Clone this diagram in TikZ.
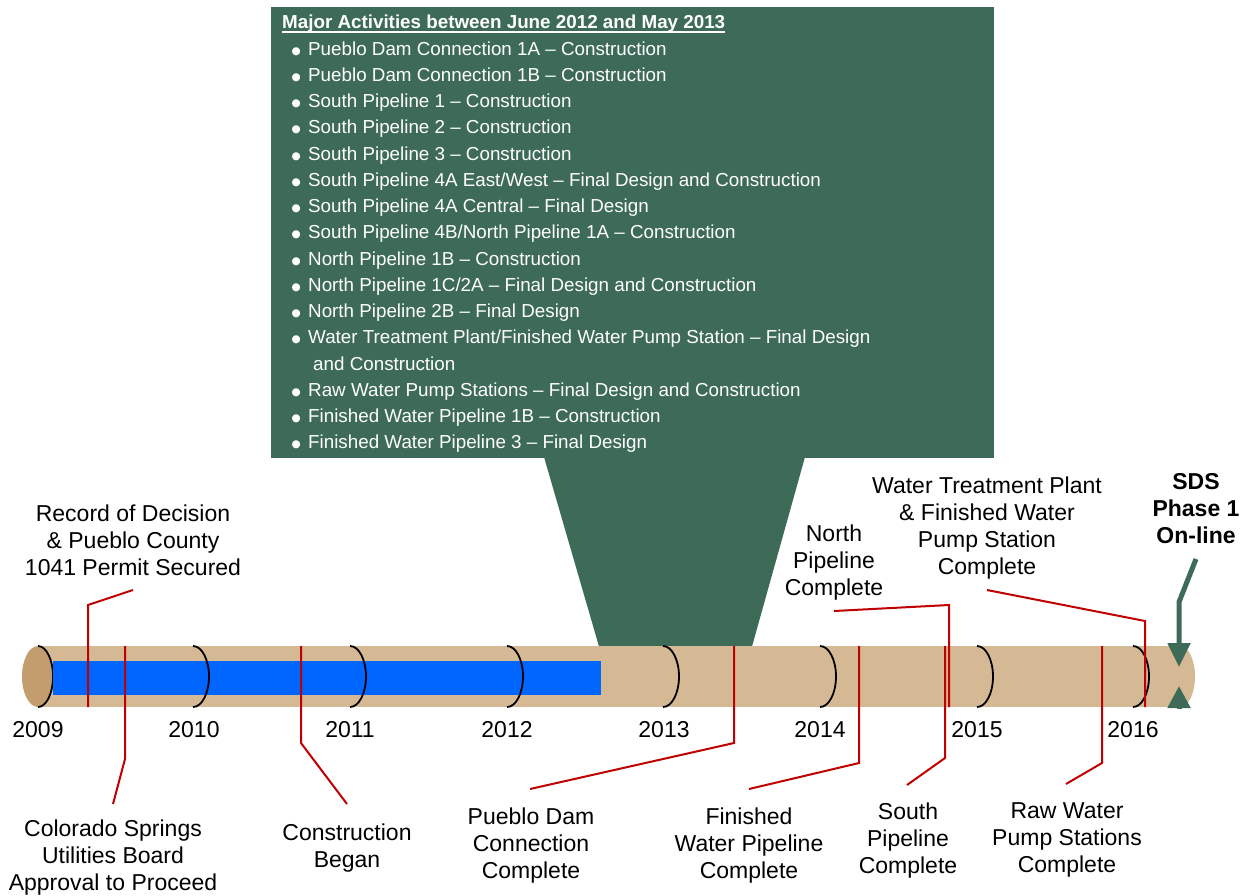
\documentclass[tikz,border=0pt]{standalone}
\usepackage{fontspec}
\setmainfont{Liberation Sans}
\newfontfamily\dvs{DejaVu Sans}
\usetikzlibrary{arrows.meta}
\definecolor{boxgreen}{RGB}{61,107,87}
\definecolor{pipetan}{RGB}{213,185,148}
\definecolor{pipedark}{RGB}{196,157,110}
\definecolor{barblue}{RGB}{0,102,255}
\definecolor{leadred}{RGB}{192,0,0}
\newcommand\bul{\llap{\raisebox{1.6pt}{\dvs\fontsize{10.5}{10}\selectfont ●}\hspace{7.5pt}}}
\begin{document}
\begin{tikzpicture}[x=1pt,y=-1pt,
  lbl/.style={align=center, anchor=north, inner sep=0pt, font=\fontsize{23}{27}\selectfont},
  boldlbl/.style={lbl, font=\fontsize{23}{27}\selectfont\bfseries},
  item/.style={anchor=base west, inner sep=0pt, text=white, font=\fontsize{18.8}{22}\selectfont},
  yr/.style={anchor=base, inner sep=0pt, font=\fontsize{23}{27}\selectfont},
  leader/.style={draw=leadred, line width=2pt},
  yeararc/.style={draw=black, line width=1.8pt},
  sdsarrow/.style={draw=boxgreen, line width=5pt, -{Triangle[width=22pt,length=24pt]}, color=boxgreen}]
\useasboundingbox (0,0) rectangle (1244,895);

% callout box
\fill[boxgreen] (271,7) rectangle (994,458);
\fill[boxgreen] (544,457) -- (805,457) -- (752,646.5) -- (599,646.5) -- cycle;

\node[item, font=\fontsize{18.8}{22}\selectfont\bfseries] (title) at (282,28.7) {Major Activities between June 2012 and May 2013};
\draw[white, line width=1.4pt] ([yshift=-3.2pt]title.base west) -- ([yshift=-3.2pt]title.base east);

\node[item] (i1)  at (308,55.7)  {\bul Pueblo Dam Connection 1A – Construction};
\node[item] (i2)  at (308,81.7)  {\bul Pueblo Dam Connection 1B – Construction};
\node[item] (i3)  at (308,107.7) {\bul South Pipeline 1 – Construction};
\node[item] (i4)  at (308,133.7) {\bul South Pipeline 2 – Construction};
\node[item] (i5)  at (308,160.7) {\bul South Pipeline 3 – Construction};
\node[item] (i6)  at (308,186.7) {\bul South Pipeline 4A East/West – Final Design and Construction};
\node[item] (i7)  at (308,212.7) {\bul South Pipeline 4A Central – Final Design};
\node[item] (i8)  at (308,238.7) {\bul South Pipeline 4B/North Pipeline 1A – Construction};
\node[item] (i9)  at (308,265.7) {\bul North Pipeline 1B – Construction};
\node[item] (i10) at (308,291.7) {\bul North Pipeline 1C/2A – Final Design and Construction};
\node[item] (i11) at (308,317.7) {\bul North Pipeline 2B – Final Design};
\node[item] (i12) at (308,343.7) {\bul Water Treatment Plant/Finished Water Pump Station – Final Design};
\node[item] (i12b) at (313,370.7) {and Construction};
\node[item] (i13) at (308,396.7) {\bul Raw Water Pump Stations – Final Design and Construction};
\node[item] (i14) at (308,422.7) {\bul Finished Water Pipeline 1B – Construction};
\node[item] (i15) at (308,448.7) {\bul Finished Water Pipeline 3 – Final Design};

% pipe
\fill[pipetan] (38,646) rectangle (1180,707);
\fill[pipetan] (1180,676.5) ellipse [x radius=15, y radius=30.5];
\fill[pipedark] (38,676.5) ellipse [x radius=16, y radius=30.5];
\draw[yeararc] (38,646) arc[start angle=-90, end angle=90, x radius=15, y radius=30.5];
\fill[barblue] (53,661) rectangle (601,695);
\foreach \xx in {193,350,507,663,820,977,1133}
  \draw[yeararc] (\xx,646) arc[start angle=-90, end angle=90, x radius=16, y radius=30.5];

% years
\node[yr] (y2009) at (38,737) {2009};
\node[yr] (y2010) at (194,737) {2010};
\node[yr] (y2011) at (350,737) {2011};
\node[yr] (y2012) at (507,737) {2012};
\node[yr] (y2013) at (664,737) {2013};
\node[yr] (y2014) at (820,737) {2014};
\node[yr] (y2015) at (977,737) {2015};
\node[yr] (y2016) at (1133,737) {2016};

% labels
\node[lbl] (rod) at (133,504.5) {Record of Decision\\\& Pueblo County\\1041 Permit Secured};
\node[lbl] (csu) at (113,820) {Colorado Springs\\Utilities Board\\Approval to Proceed};
\node[lbl] (cb)  at (347,823.5) {Construction\\Began};
\node[lbl] (pdc) at (531,807.5) {Pueblo Dam\\Connection\\Complete};
\node[lbl] (fwp) at (749,807.5) {Finished\\Water Pipeline\\Complete};
\node[lbl] (sp)  at (908,802.5) {South\\Pipeline\\Complete};
\node[lbl] (rw)  at (1067,802.5) {Raw Water\\Pump Stations\\Complete};
\node[lbl] (np)  at (834,524.5) {North\\Pipeline\\Complete};
\node[lbl] (wtp) at (987,476.5) {Water Treatment Plant\\\& Finished Water\\Pump Station\\Complete};
\node[boldlbl] (sds) at (1196,473.5) {SDS\\Phase 1\\On-line};

% leader coordinates
\coordinate (rodA) at (133,590);  \coordinate (rodK) at (88,605);  \coordinate (rodT) at (88,707);
\coordinate (csuA) at (113,804);  \coordinate (csuK) at (125,759); \coordinate (csuT) at (125,646);
\coordinate (cbA)  at (347,804);  \coordinate (cbK)  at (301,743); \coordinate (cbT)  at (301,646);
\coordinate (pdcA) at (530,789);  \coordinate (pdcK) at (734,743); \coordinate (pdcT) at (734,646);
\coordinate (fwpA) at (749,789);  \coordinate (fwpK) at (859,763); \coordinate (fwpT) at (859,646);
\coordinate (spA)  at (907,785);  \coordinate (spK)  at (945,758); \coordinate (spT)  at (945,646);
\coordinate (rwA)  at (1066,784); \coordinate (rwK)  at (1102,763); \coordinate (rwT) at (1102,646);
\coordinate (npA)  at (834,611);  \coordinate (npK)  at (949,605); \coordinate (npT)  at (949,707);
\coordinate (wtpA) at (987,590);  \coordinate (wtpK) at (1145,621); \coordinate (wtpT) at (1145,707);

\draw[leader] (rodA) -- (rodK) -- (rodT);
\draw[leader] (csuA) -- (csuK) -- (csuT);
\draw[leader] (cbA) -- (cbK) -- (cbT);
\draw[leader] (pdcA) -- (pdcK) -- (pdcT);
\draw[leader] (fwpA) -- (fwpK) -- (fwpT);
\draw[leader] (spA) -- (spK) -- (spT);
\draw[leader] (rwA) -- (rwK) -- (rwT);
\draw[leader] (npA) -- (npK) -- (npT);
\draw[leader] (wtpA) -- (wtpK) -- (wtpT);

% SDS arrows
\coordinate (sdsA) at (1196,559);
\coordinate (sdsB) at (1179,602);
\coordinate (sdsC) at (1179,667);
\coordinate (sdsD) at (1179,709);
\coordinate (sdsE) at (1179,686);
\draw[sdsarrow] (sdsA) -- (sdsB) -- (sdsC);
\draw[sdsarrow, -{Triangle[width=22pt,length=22pt]}] (sdsD) -- (sdsE);
\end{tikzpicture}
\end{document}
